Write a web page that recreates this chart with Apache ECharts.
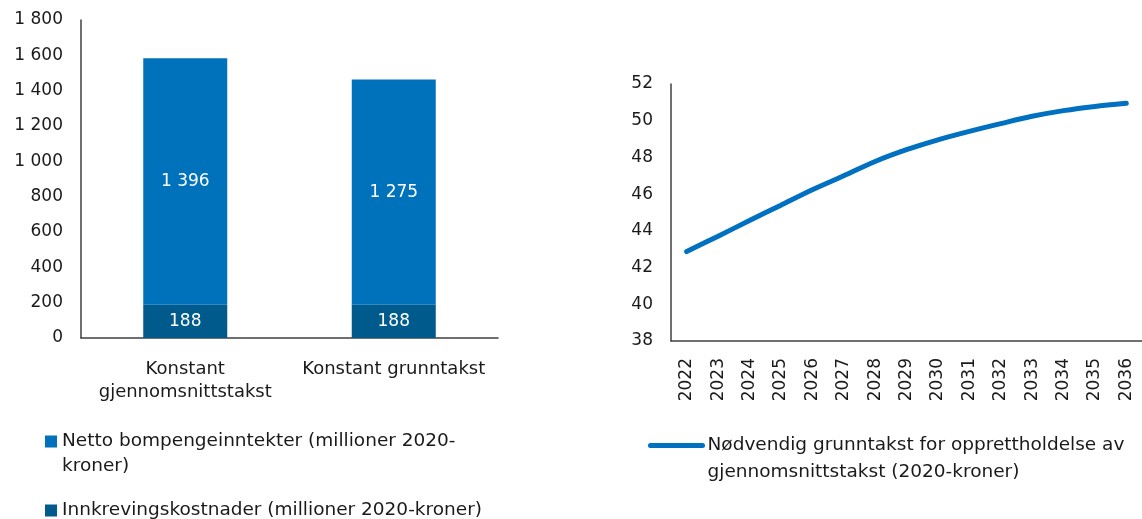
<!DOCTYPE html>
<html>
<head>
<meta charset="utf-8">
<script src="https://cdn.jsdelivr.net/npm/echarts@6/dist/echarts.min.js"></script>
<style>
html,body{margin:0;padding:0;background:#fff;}
#c{width:1142px;height:519px;}
</style>
</head>
<body>
<div id="c"></div>
<script>
const categories = ['Konstant\ngjennomsnittstakst', 'Konstant grunntakst'];
const innkreving = [188, 188];
const netto = [1396, 1275];
const leftTicks = { min: 0, max: 1800, interval: 200 };

const years = ['2022','2023','2024','2025','2026','2027','2028','2029','2030','2031','2032','2033','2034','2035','2036'];
const grunntakst = [42.87, 43.71, 44.56, 45.40, 46.24, 47.00, 47.78, 48.42, 48.96, 49.42, 49.84, 50.24, 50.55, 50.78, 50.95];
const rightTicks = { min: 38, max: 52, interval: 2 };

const nameNetto = 'Netto bompengeinntekter (millioner 2020-kroner)';
const nameInnkreving = 'Innkrevingskostnader (millioner 2020-kroner)';
const nameLine = 'Nødvendig grunntakst for opprettholdelse av gjennomsnittstakst (2020-kroner)';

const FONT = 'DejaVu Sans';
const TXT = '#1a1a1a';
const fmt = v => String(v).replace(/\B(?=(\d{3})+(?!\d))/g, ' ');

const chart = echarts.init(document.getElementById('c'));
chart.setOption({
  animation: false,
  textStyle: { fontFamily: FONT },
  grid: [
    { left: 81, top: 20, width: 417, height: 318 },
    { left: 671, top: 84, width: 471, height: 257 }
  ],
  xAxis: [
    { gridIndex: 0, type: 'category', data: categories,
      axisLine: { lineStyle: { color: '#404040', width: 1.5 } },
      axisTick: { show: false },
      axisLabel: { color: TXT, fontSize: 18, fontFamily: FONT, margin: 20, lineHeight: 23, interval: 0, hideOverlap: false } },
    { gridIndex: 1, type: 'category', data: years,
      axisLine: { lineStyle: { color: '#404040', width: 1.5 } },
      axisTick: { show: false },
      axisLabel: { color: TXT, fontSize: 17, fontFamily: FONT, rotate: 90, margin: 17, interval: 0 } }
  ],
  yAxis: [
    { gridIndex: 0, type: 'value', min: leftTicks.min, max: leftTicks.max, interval: leftTicks.interval,
      axisLine: { show: true, lineStyle: { color: '#404040', width: 1.5 } },
      axisTick: { show: false }, splitLine: { show: false },
      axisLabel: { color: TXT, fontSize: 17, fontFamily: FONT, margin: 18, formatter: fmt } },
    { gridIndex: 1, type: 'value', min: rightTicks.min, max: rightTicks.max, interval: rightTicks.interval,
      axisLine: { show: true, lineStyle: { color: '#404040', width: 1.5 } },
      axisTick: { show: false }, splitLine: { show: false },
      axisLabel: { color: TXT, fontSize: 17, fontFamily: FONT, margin: 18 } }
  ],
  legend: [
    { data: [nameNetto], left: 45, top: 404, orient: 'vertical', padding: 0,
      itemWidth: 12, itemHeight: 12, itemGap: 4, icon: 'rect',
      formatter: () => '\nNetto bompengeinntekter (millioner 2020-\nkroner)',
      textStyle: { color: TXT, fontSize: 18.5, fontFamily: FONT, lineHeight: 25 } },
    { data: [nameInnkreving], left: 45, top: 498, orient: 'vertical', padding: 0,
      itemWidth: 12, itemHeight: 12, icon: 'rect',
      textStyle: { color: TXT, fontSize: 18.5, fontFamily: FONT, lineHeight: 25 } },
    { data: [nameLine], left: 648, top: 405, orient: 'vertical', padding: 0,
      itemWidth: 52, itemHeight: 12,
      itemStyle: { opacity: 0 },
      lineStyle: { color: '#0070C0', width: 5, cap: 'round' },
      formatter: () => '\nNødvendig grunntakst for opprettholdelse av\ngjennomsnittstakst (2020-kroner)',
      textStyle: { color: TXT, fontSize: 18.5, fontFamily: FONT, lineHeight: 27 } }
  ],
  series: [
    { name: nameInnkreving, type: 'bar', stack: 'a', xAxisIndex: 0, yAxisIndex: 0,
      data: innkreving, barWidth: 84, itemStyle: { color: '#005A8C' },
      label: { show: true, position: 'inside', color: '#fff', fontSize: 17, fontFamily: FONT, formatter: p => fmt(p.value) } },
    { name: nameNetto, type: 'bar', stack: 'a', xAxisIndex: 0, yAxisIndex: 0,
      data: netto, barWidth: 84, itemStyle: { color: '#0072BC' },
      label: { show: true, position: 'inside', color: '#fff', fontSize: 17, fontFamily: FONT, formatter: p => fmt(p.value) } },
    { name: nameLine, type: 'line', xAxisIndex: 1, yAxisIndex: 1,
      data: grunntakst, symbol: 'none', smooth: 0.3,
      lineStyle: { color: '#0070C0', width: 5, cap: 'round' }, itemStyle: { color: '#0070C0' } }
  ]
});
</script>
</body>
</html>
